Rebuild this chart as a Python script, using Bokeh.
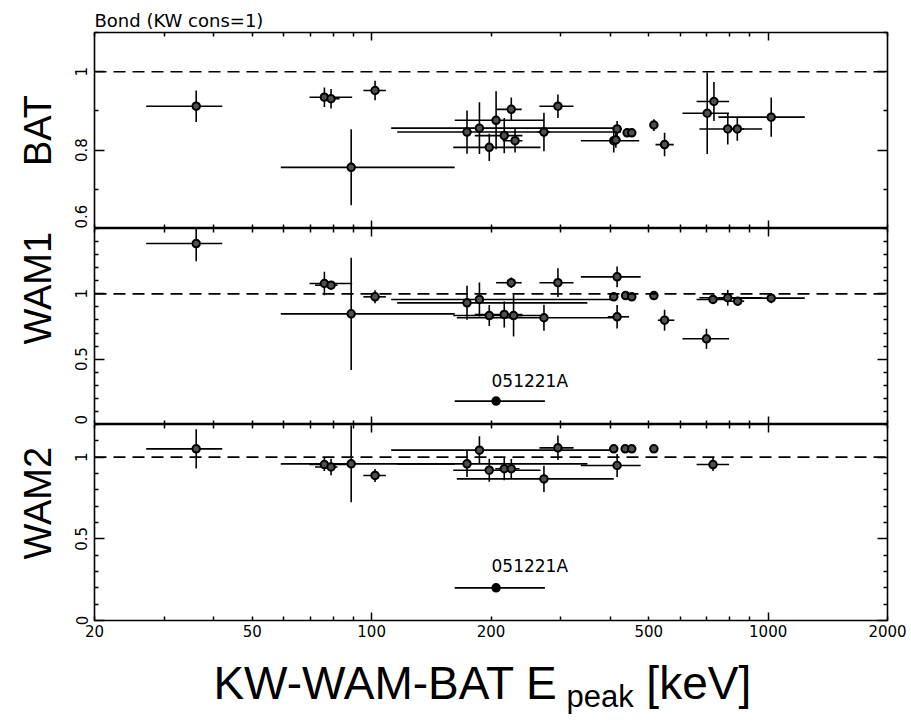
import math
from bokeh.plotting import figure
from bokeh.models import (Range1d, FixedTicker, LogAxis, LinearAxis, PrintfTickFormatter,
                          Span, Label, Title, ColumnDataSource)
from bokeh.layouts import column
from bokeh.embed import file_html
from bokeh.resources import INLINE

# ---------------- data (ratio of normalisations vs joint Epeak) ----------------
bat_epeak = [36.1, 76, 79, 88.8, 102, 174, 187, 198, 206, 216, 225, 230, 272, 295, 408, 413, 416,
             441, 453, 515, 548, 702, 730, 791, 836, 1018]
bat_elo = [27.0, 69.7, 75, 59, 95.3, 116, 112, 160.6, 162, 182, 206, 214, 262, 265, 337, 402, 405,
           432, 444, 508, 520, 608, 660, 671, 800, 749]
bat_ehi = [42.0, 89.3, 83, 162, 108.6, 425, 420, 266.6, 272, 240, 239, 240, 282, 323, 473, 425, 428,
           450, 462, 522, 578, 797, 797, 966, 870, 1237]
bat_ratio = [0.912, 0.935, 0.931, 0.756, 0.952, 0.846, 0.856, 0.807, 0.876, 0.837, 0.904, 0.824, 0.846,
             0.912, 0.824, 0.826, 0.854, 0.844, 0.844, 0.864, 0.814, 0.894, 0.924, 0.854, 0.854, 0.884]
bat_err = [0.04, 0.025, 0.025, 0.097, 0.025, 0.055, 0.066, 0.035, 0.074, 0.045, 0.03, 0.03, 0.049,
           0.03, 0.03, 0.02, 0.02, 0.01, 0.01, 0.015, 0.03, 0.104, 0.05, 0.04, 0.03, 0.05]

wam1_epeak = [36.1, 76, 79, 88.8, 102, 174, 187, 198, 216, 225, 228, 272, 295, 408, 416, 416, 437,
              453, 515, 548, 699, 726, 791, 838, 1018]
wam1_elo = [27.0, 69.7, 72, 59, 95.3, 116, 112, 160.6, 182, 206, 214, 164, 265, 400, 337, 394, 430,
            446, 508, 527, 608, 660, 671, 800, 749]
wam1_ehi = [42.0, 89.3, 82, 162, 108.6, 350, 408, 266.6, 240, 239, 240, 408, 323, 416, 477, 446, 445,
            460, 522, 580, 797, 797, 966, 870, 1237]
wam1_ratio = [1.385, 1.079, 1.066, 0.847, 0.977, 0.931, 0.957, 0.834, 0.842, 1.085, 0.834, 0.817,
              1.085, 0.977, 1.13, 0.824, 0.987, 0.977, 0.987, 0.798, 0.656, 0.957, 0.97, 0.944, 0.967]
wam1_err = [0.135, 0.09, 0.03, 0.43, 0.05, 0.13, 0.13, 0.08, 0.1, 0.04, 0.16, 0.1, 0.11, 0.02, 0.08,
            0.09, 0.02, 0.02, 0.02, 0.08, 0.077, 0.03, 0.06, 0.03, 0.04]

wam2_epeak = [36.1, 76, 79, 88.8, 102, 174, 187, 198, 216, 225, 272, 295, 408, 416, 436, 453, 515, 726]
wam2_elo = [27.0, 69.7, 72, 59, 95.3, 116, 112, 160.6, 205, 215, 164, 265, 400, 337, 430, 446, 508, 660]
wam2_ehi = [42.0, 89.3, 82, 162, 108.6, 350, 410, 266.6, 228, 236, 408, 323, 416, 477, 445, 460, 522, 797]
wam2_ratio = [1.051, 0.955, 0.94, 0.959, 0.888, 0.959, 1.043, 0.92, 0.929, 0.929, 0.867, 1.057, 1.051,
              0.949, 1.051, 1.051, 1.051, 0.955]
wam2_err = [0.12, 0.04, 0.05, 0.235, 0.04, 0.08, 0.085, 0.07, 0.07, 0.06, 0.08, 0.075, 0.015, 0.07,
            0.015, 0.015, 0.015, 0.04]

# GRB 051221A (short burst, WAM only)
special_name = "051221A"
special_epeak = [206]
special_elo = [162]
special_ehi = [273.5]
special_wam1 = [0.179]
special_wam2 = [0.2]

x_major = [100, 1000]
x_minor = [20, 30, 40, 50, 60, 70, 80, 90, 200, 300, 400, 500, 600, 700, 800, 900, 2000]
x_labels = [20, 50, 100, 200, 500, 1000, 2000]

FONT = "DejaVu Sans"
TITLE_FONT = "Liberation Sans"
X_RANGE = Range1d(20, 2000)


def src(e, lo, hi, r, err):
    return ColumnDataSource(dict(e=e, lo=lo, hi=hi, r=r,
                                 rlo=[a - b for a, b in zip(r, err)],
                                 rhi=[a + b for a, b in zip(r, err)]))


def tick_axis(cls, ticker, major_in, minor_in):
    return cls(ticker=ticker, axis_line_color=None, major_tick_in=major_in, major_tick_out=0,
               minor_tick_in=minor_in, minor_tick_out=0, major_tick_line_width=1.5,
               minor_tick_line_width=1.5, major_label_text_font_size="1px",
               major_label_text_color=None, major_label_standoff=0)


def panel(height, yr, btop, bbot, yticks, yminor, ytitle, talign, toffset):
    p = figure(width=911, height=height, x_axis_type="log", x_range=X_RANGE,
               y_range=Range1d(*yr), output_backend="svg", toolbar_location=None,
               x_axis_location=None, y_axis_location=None,
               min_border_left=94, min_border_right=24, min_border_top=btop, min_border_bottom=bbot)
    p.outline_line_color = "black"
    p.outline_line_width = 1.6
    p.background_fill_color = "white"
    p.border_fill_color = "white"
    for g in p.grid:
        g.visible = False
    xt = FixedTicker(ticks=x_major, minor_ticks=x_minor)
    yt = FixedTicker(ticks=yticks, minor_ticks=yminor)
    p.add_layout(tick_axis(LogAxis, xt, 8, 4), "below")
    p.add_layout(tick_axis(LogAxis, xt, 8, 4), "above")
    p.add_layout(tick_axis(LinearAxis, yt, 10, 4), "right")
    left = LinearAxis(ticker=yt, formatter=PrintfTickFormatter(format="%g"), axis_line_color=None,
                      major_tick_in=10, major_tick_out=0, minor_tick_in=4, minor_tick_out=0,
                      major_tick_line_width=1.5, minor_tick_line_width=1.5,
                      major_label_orientation="vertical", major_label_standoff=7,
                      major_label_text_font=FONT, major_label_text_font_size="15px",
                      major_label_text_color="black")
    p.add_layout(left, "left")
    p.add_layout(Title(text=ytitle, align=talign, offset=toffset, standoff=28,
                       text_font=TITLE_FONT, text_font_size="38px", text_font_style="normal",
                       text_color="black"), "left")
    p.add_layout(Span(location=1.0, dimension="width", line_color="black", line_width=1.6,
                      line_dash="12 7"))
    return p


def draw(p, s, fill="#505050"):
    p.segment(x0="lo", y0="r", x1="hi", y1="r", source=s, line_color="black", line_width=1.6)
    p.segment(x0="e", y0="rlo", x1="e", y1="rhi", source=s, line_color="black", line_width=1.6)
    p.scatter("e", "r", source=s, marker="circle", size=7.5, line_color="black", line_width=2,
              fill_color=fill)


p1 = panel(228, (0.6, 1.1), 32, 0, [0.6, 0.8, 1.0], [0.7, 0.9, 1.1], "BAT", "center", 0)
p2 = panel(196, (0.0, 1.5), 0, 0, [0.0, 0.5, 1.0],
           [0.1, 0.2, 0.3, 0.4, 0.6, 0.7, 0.8, 0.9, 1.1, 1.2, 1.3, 1.4, 1.5], "WAM1", "left", 80)
p3 = panel(223, (0.0, 1.2), 0, 27, [0.0, 0.5, 1.0],
           [0.1, 0.2, 0.3, 0.4, 0.6, 0.7, 0.8, 0.9, 1.1, 1.2], "WAM2", "left", 61)

draw(p1, src(bat_epeak, bat_elo, bat_ehi, bat_ratio, bat_err))
draw(p2, src(wam1_epeak, wam1_elo, wam1_ehi, wam1_ratio, wam1_err))
draw(p3, src(wam2_epeak, wam2_elo, wam2_ehi, wam2_ratio, wam2_err))
draw(p2, src(special_epeak, special_elo, special_ehi, special_wam1, [0.0]), fill="black")
draw(p3, src(special_epeak, special_elo, special_ehi, special_wam2, [0.0]), fill="black")

p2.add_layout(Label(x=200.6, y=0.33, text=special_name, text_font=FONT, text_font_size="17px",
                    text_color="black", text_align="left", text_baseline="alphabetic"))
p3.add_layout(Label(x=200.6, y=0.335, text=special_name, text_font=FONT, text_font_size="17px",
                    text_color="black", text_align="left", text_baseline="alphabetic"))

# bottom labelled axis
lab_axis = LogAxis(ticker=FixedTicker(ticks=x_labels, minor_ticks=[]),
                   formatter=PrintfTickFormatter(format="%d"), axis_line_color=None,
                   major_tick_in=0, major_tick_out=0, minor_tick_in=0, minor_tick_out=0,
                   major_label_standoff=4, major_label_text_font=FONT,
                   major_label_text_font_size="15px", major_label_text_color="black")
p3.add_layout(lab_axis, "below")

# top title
p1.add_layout(Title(text="Bond (KW cons=1)", align="left", standoff=4, text_font=FONT,
                    text_font_size="18px", text_font_style="normal", text_color="black"), "above")

# strip holding the x-axis title
p4 = figure(width=911, height=76, x_axis_type="log", x_range=X_RANGE, y_range=Range1d(0, 1),
            output_backend="svg", toolbar_location=None, x_axis_location=None,
            y_axis_location=None, min_border_left=94, min_border_right=24, min_border_top=0,
            min_border_bottom=0)
p4.outline_line_color = None
for g in p4.grid:
    g.visible = False
p4.add_layout(Label(x=39.9, y=0.53, text="KW-WAM-BAT E", text_font=TITLE_FONT, text_color="black",
                    text_font_size="46px", text_align="left", text_baseline="alphabetic"))
p4.add_layout(Label(x=310, y=0.35, text="peak", text_font=TITLE_FONT, text_color="black",
                    text_font_size="31px", text_align="left", text_baseline="alphabetic"))
p4.add_layout(Label(x=493, y=0.53, text="[keV]", text_font=TITLE_FONT, text_color="black",
                    text_font_size="46px", text_align="left", text_baseline="alphabetic"))

layout = column(p1, p2, p3, p4, spacing=0)
open("out.html", "w").write(file_html(layout, INLINE))
